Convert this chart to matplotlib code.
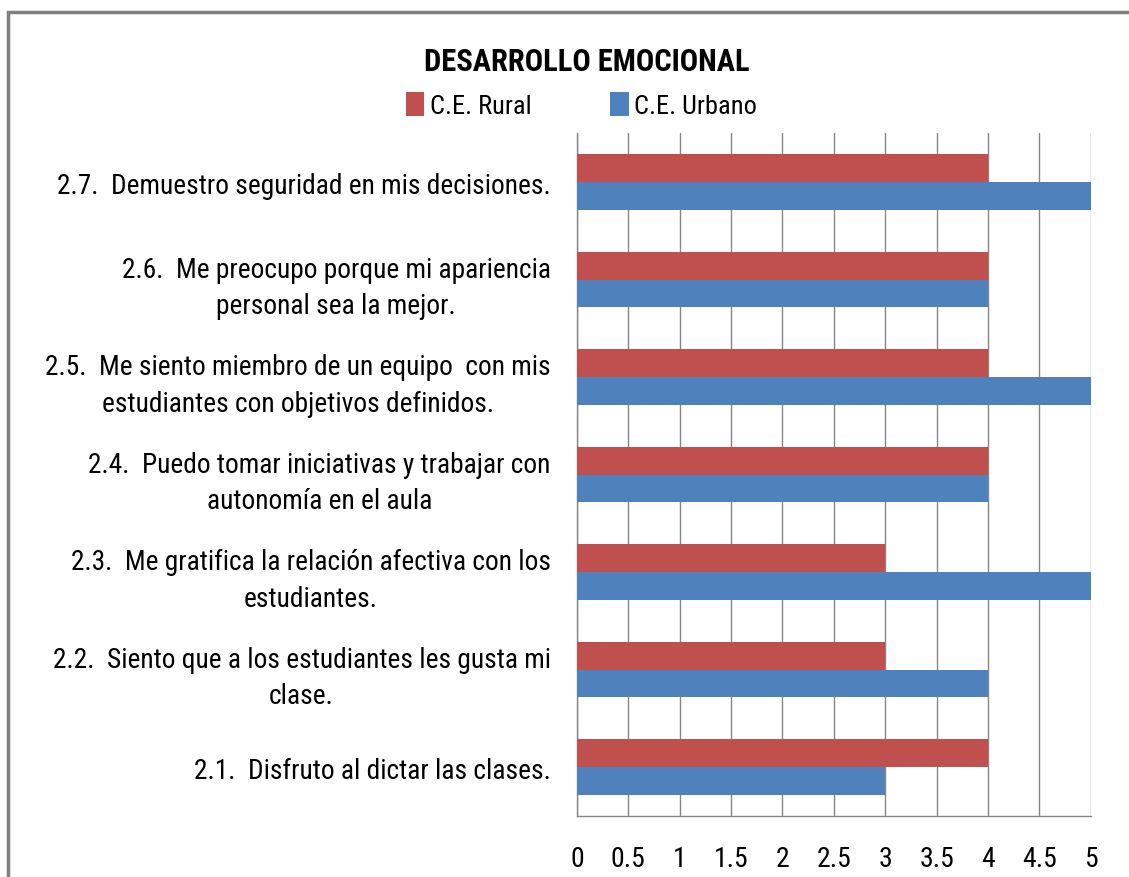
import matplotlib.pyplot as plt
from matplotlib import font_manager
from matplotlib.patches import Rectangle
import numpy as np

# Data
categorias = [
    "2.1.  Disfruto al dictar las clases.",
    "2.2.  Siento que a los estudiantes les gusta mi\nclase.",
    "2.3.  Me gratifica la relación afectiva con los\nestudiantes.",
    "2.4.  Puedo tomar iniciativas y trabajar con\nautonomía en el aula",
    "2.5.  Me siento miembro de un equipo  con mis\nestudiantes con objetivos definidos.",
    "2.6.  Me preocupo porque mi apariencia\npersonal sea la mejor.",
    "2.7.  Demuestro seguridad en mis decisiones.",
]
rural = [4, 3, 3, 4, 4, 4, 4]
urbano = [3, 4, 5, 4, 5, 4, 5]
series = ["C.E. Rural", "C.E. Urbano"]
xticks = [0, 0.5, 1, 1.5, 2, 2.5, 3, 3.5, 4, 4.5, 5]

# pick a narrow font if there is one
nombres = {f.name for f in font_manager.fontManager.ttflist}
familia = ["DejaVu Sans"]
for cand in ["Liberation Sans Narrow", "Roboto Condensed", "Open Sans Condensed", "Liberation Sans"]:
    if cand in nombres:
        familia = [cand, "DejaVu Sans"]
        break
plt.rcParams['font.family'] = familia

rojo = "#C0504D"
azul = "#4F81BD"
gris = "#868686"

fig = plt.figure(figsize=(11.29, 8.78), dpi=100)
ax = fig.add_axes([0.511, 0.0695, 0.455, 0.7775])

y = np.arange(len(categorias))
h = 0.285
ax.barh(y + h / 2, rural, height=h, color=rojo, label=series[0], zorder=3)
ax.barh(y - h / 2, urbano, height=h, color=azul, label=series[1], zorder=3)

ax.set_xlim(0, 5)
ax.set_ylim(-0.5, len(categorias) - 0.5)
ax.set_xticks(xticks)
ax.set_xticklabels([f"{t:g}" for t in xticks], fontsize=20)
ax.set_yticks(y)
ax.set_yticklabels(categorias, fontsize=19.7, multialignment="center", linespacing=1.45)
ax.tick_params(axis="x", length=0, pad=21)
ax.tick_params(axis="y", length=0, pad=19)
ax.grid(axis="x", color=gris, linewidth=1, zorder=0)
for s in ["top", "right"]:
    ax.spines[s].set_visible(False)
for s in ["left", "bottom"]:
    ax.spines[s].set_color(gris)
    ax.spines[s].set_linewidth(1)

fig.text(0.52, 0.929, "DESARROLLO EMOCIONAL", ha="center", va="center",
         fontsize=22, fontweight="bold")
fig.legend(loc="center", bbox_to_anchor=(0.515, 0.879), ncol=2, frameon=False,
           fontsize=19, handlelength=0.7, handleheight=1.0, handletextpad=0.2,
           columnspacing=3.0)

# outer chart border
fig.patches.append(Rectangle((8 / 1129, -0.1), 1.2, 1.1 - 13 / 878,
                             transform=fig.transFigure, fill=False,
                             edgecolor="#7f7f7f", linewidth=2.5))

fig.savefig("out.png", dpi=100)
